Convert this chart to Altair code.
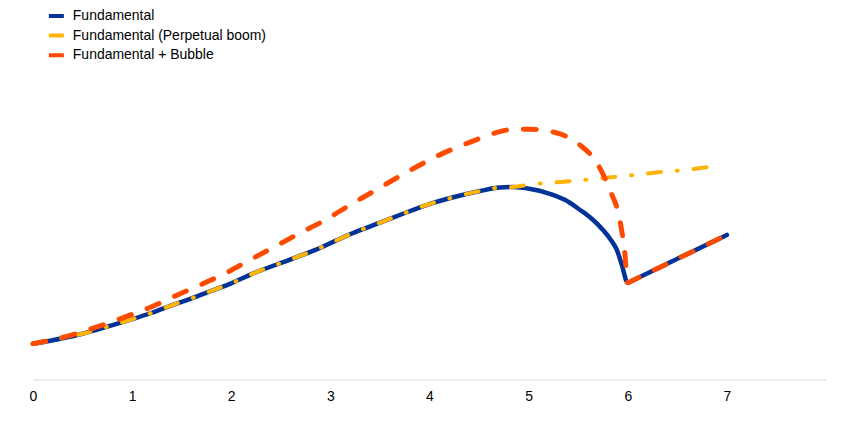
import altair as alt
import pandas as pd

# Series values (y in arbitrary units)
fund_t = [0, 0.3, 0.5, 0.75, 1.0, 1.2, 1.4, 1.6, 1.8, 2.0, 2.2, 2.6, 2.85, 3.05, 3.28, 3.48, 3.7, 3.97, 4.25, 4.51, 4.71, 4.84, 5.02, 5.19, 5.37, 5.52, 5.64, 5.75, 5.83, 5.89, 5.94, 6.0, 6.05, 7.0]
fund_v = [36, 41.5, 46, 53, 60.5, 67, 74.5, 81.5, 89, 96.5, 105.5, 120.5, 130, 139, 149, 156.5, 165, 175, 183, 189, 192.5, 193, 191, 187, 180, 170, 161, 150, 140, 130, 115, 97, 99.4, 145]

boom_t = [0, 0.3, 0.5, 0.75, 1.0, 1.2, 1.4, 1.6, 1.8, 2.0, 2.2, 2.6, 2.85, 3.05, 3.28, 3.48, 3.7, 3.97, 4.25, 4.51, 4.71, 4.84, 5.05, 5.32, 5.75, 6.05, 6.33, 6.56, 6.95]
boom_v = [36, 41.5, 46, 53, 60.5, 67, 74.5, 81.5, 89, 96.5, 105.5, 120.5, 130, 139, 149, 156.5, 165, 175, 183, 189, 192.5, 193, 196, 198, 202, 205, 208, 210, 215]

bub_t = [0, 0.34, 0.63, 0.9, 1.18, 1.44, 1.69, 1.96, 2.19, 2.43, 2.69, 2.95, 3.18, 3.43, 3.69, 4.14, 4.41, 4.69, 4.86, 5.01, 5.29, 5.52, 5.69, 5.82, 5.92, 5.97, 6.0, 6.05, 7.0]
bub_v = [36, 43.3, 52.3, 61.7, 72.3, 84, 95, 107.5, 120, 132.7, 146.7, 160, 174, 188.3, 203.3, 227, 238, 248, 251, 251, 247, 235, 217, 190, 160, 127, 97, 99.4, 145]

series = ["Fundamental", "Fundamental (Perpetual boom)", "Fundamental + Bubble"]
colors = ["#003299", "#FFB400", "#FF4B00"]
x_ticks = [0, 1, 2, 3, 4, 5, 6, 7]

df_f = pd.DataFrame({"t": fund_t, "v": fund_v, "series": series[0]})
df_b = pd.DataFrame({"t": boom_t, "v": boom_v, "series": series[1]})
df_u = pd.DataFrame({"t": bub_t, "v": bub_v, "series": series[2]})

x = alt.X("t:Q", scale=alt.Scale(domain=[0, 8], nice=False),
          axis=alt.Axis(values=x_ticks, title=None, grid=False, ticks=False,
                        domainColor="#d9d9d9", labelColor="#000000",
                        labelFont="Liberation Sans", labelFontSize=14,
                        labelPadding=10, labelFlush=False))
y = alt.Y("v:Q", scale=alt.Scale(domain=[0, 280], nice=False, zero=False), axis=None)
color = alt.Color("series:N", scale=alt.Scale(domain=series, range=colors),
                  legend=alt.Legend(title=None, orient="none", legendX=14, legendY=-94,
                                    symbolType="stroke", symbolStrokeWidth=4,
                                    symbolSize=225, symbolDash=[1, 0],
                                    labelFont="Liberation Sans", labelFontSize=14,
                                    labelColor="#000000", rowPadding=1.7,
                                    labelOffset=7, labelLimit=0))

l1 = alt.Chart(df_f).mark_line(strokeWidth=4.5, interpolate="monotone", strokeCap="round").encode(x=x, y=y, color=color)
l2 = alt.Chart(df_b).mark_line(strokeWidth=4, interpolate="monotone", strokeCap="round", strokeDash=[13, 16, 1, 16]).encode(x=x, y=y, color=color)
l3 = alt.Chart(df_u).mark_line(strokeWidth=5, interpolate="monotone", strokeCap="round", strokeDash=[13, 17]).encode(x=x, y=y, color=color)

chart = alt.layer(l1, l2, l3).properties(
    width=795, height=280,
    background="white",
    autosize=alt.AutoSizeParams(type="none"),
    padding={"left": 25, "top": 92, "right": 10, "bottom": 30},
).configure_view(strokeWidth=0)

chart.save("out.html", embed_options={"renderer": "svg", "actions": False})
